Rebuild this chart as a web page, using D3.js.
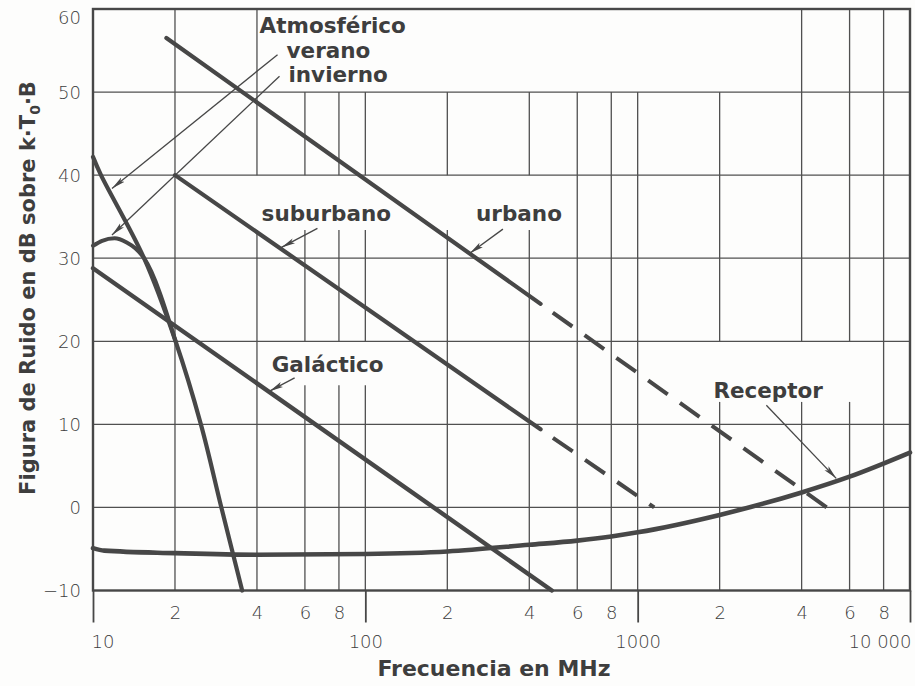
<!DOCTYPE html>
<html>
<head>
<meta charset="utf-8">
<script src="https://cdn.jsdelivr.net/npm/d3@7"></script>
<style>
  html, body { margin: 0; padding: 0; background: #fdfdfc; }
  svg { display: block; }
</style>
</head>
<body>
<svg id="chart" width="915" height="686"></svg>
<script>
// ---- Data -------------------------------------------------------------
// Frequencies in MHz, levels in dB above k·T0·B

// Atmospheric noise, summer and winter
const atmVeranoFreq   = [10, 10.7, 15.4, 20.1, 24.9, 29.6, 35.3];
const atmVeranoDb     = [42.2, 40, 30, 20, 10, 0, -10];
const atmInviernoFreq = [10, 10.8, 12, 13.3, 14.3, 15.4, 20.1];
const atmInviernoDb   = [31.5, 32.1, 32.4, 31.9, 31.2, 30, 20];

// Galactic noise
const galacticoFreq = [10, 484];
const galacticoDb   = [28.8, -10];

// Man-made noise: solid part, then extrapolated (dashed) part
const suburbanoFreq = [20, 440, 1150];
const suburbanoDb   = [40, 9.4, 0];
const urbanoFreq    = [18.6, 440, 5200];
const urbanoDb      = [56.5, 24.5, -0.5];

// Receiver noise figure
const receptorFreq = [10, 11, 20, 40, 100, 200, 400, 600, 800, 1000, 2000, 4000, 6000, 10000];
const receptorDb   = [-4.9, -5.2, -5.5, -5.7, -5.6, -5.3, -4.5, -4.0, -3.5, -3.0, -0.9, 1.8, 3.7, 6.6];

// Axis ticks
const dbTicks        = [-10, 0, 10, 20, 30, 40, 50, 60];
const dbTickLabels   = ["\u221210", "0", "10", "20", "30", "40", "50", "60"];
const minorTicks     = [20, 40, 60, 80, 200, 400, 600, 800, 2000, 4000, 6000, 8000];
const minorLabels    = ["2", "4", "6", "8", "2", "4", "6", "8", "2", "4", "6", "8"];
const decadeTicks    = [10, 100, 1000, 10000];
const decadeLabels   = ["10", "100", "1000", "10 000"];

// Vertical grid lines and the stretches left open for the labels
const gridFreqs = [20, 40, 60, 80, 100, 200, 400, 600, 800, 1000, 2000, 4000, 6000, 8000];
const gridRowsDb = [0, 10, 20, 30, 40, 50];
const gapTopRowFreqs   = [60, 80, 100, 200, 400, 600, 800, 1000, 2000];   // 50..60 dB
const gapSuburbFreqs   = [40, 60, 80, 100, 200, 400];                     // 33.4..40 dB
const gapGalactFreqs   = [60, 80, 100];                                   // 14.7..20 dB
const gapReceptFreqs   = [2000, 4000, 6000];                              // 12.7..20 dB
const gapRanges = [
  { freqs: gapTopRowFreqs, lo: 50,   hi: 60 },
  { freqs: gapSuburbFreqs, lo: 33.4, hi: 40 },
  { freqs: gapGalactFreqs, lo: 14.7, hi: 20 },
  { freqs: gapReceptFreqs, lo: 12.7, hi: 20 }
];

// Curve labels and their pointers
const labelText = ["Atmosférico", "verano", "invierno", "suburbano", "urbano", "Galáctico", "Receptor"];
const labelFreq = [40.9, 51.4, 52.2, 41.6, 255, 45.3, 1897];
const labelDb   = [57.1, 54.1, 51.2, 34.5, 34.5, 16.3, 13.2];

const pointerFromFreq = [47.6, 48.4, 66.7, 320, 55, 2968];
const pointerFromDb   = [54.5, 51.9, 33.6, 33.5, 15.6, 12.3];
const pointerToFreq   = [11.74, 11.74, 49.2, 242, 44.5, 5358];
const pointerToDb     = [38.4, 32.8, 31.3, 30.6, 14.0, 3.5];

// ---- Layout -----------------------------------------------------------
const svg = d3.select("#chart");
const W = 915, H = 686;
const plot = { left: 93, right: 910, top: 9, bottom: 590.5 };

const x = d3.scaleLog().domain([10, 10000]).range([plot.left, plot.right]);
const y = d3.scaleLinear().domain([-10, 60]).range([plot.bottom, plot.top]);

const INK = "#474747";
const TEXT = "#3e3e3e";
const labelFont = "'DejaVu Sans', Verdana, sans-serif";
const tickFont = "'DejaVu Sans', sans-serif";

svg.append("rect").attr("width", W).attr("height", H).attr("fill", "#fdfdfc");

// ---- Grid -------------------------------------------------------------
const grid = svg.append("g").attr("stroke", "#505050").attr("stroke-width", 1.3).attr("fill", "none");

grid.selectAll("line.h").data(gridRowsDb).join("line")
  .attr("class", "h")
  .attr("x1", plot.left).attr("x2", plot.right)
  .attr("y1", d => y(d)).attr("y2", d => y(d));

function openStretches(f) {
  let parts = [[-10, 60]];
  gapRanges.filter(g => g.freqs.includes(f)).forEach(g => {
    const next = [];
    parts.forEach(([a, b]) => {
      if (g.hi <= a || g.lo >= b) { next.push([a, b]); return; }
      if (g.lo > a) next.push([a, g.lo]);
      if (g.hi < b) next.push([g.hi, b]);
    });
    parts = next;
  });
  return parts.map(p => ({ f, lo: p[0], hi: p[1] }));
}
const vSegments = gridFreqs.flatMap(openStretches);
grid.selectAll("line.v").data(vSegments).join("line")
  .attr("class", "v")
  .attr("x1", d => x(d.f)).attr("x2", d => x(d.f))
  .attr("y1", d => y(d.lo)).attr("y2", d => y(d.hi));

// Frame
svg.append("rect")
  .attr("x", plot.left).attr("y", plot.top)
  .attr("width", plot.right - plot.left).attr("height", plot.bottom - plot.top)
  .attr("fill", "none").attr("stroke", INK).attr("stroke-width", 2.4);

// ---- Axes -------------------------------------------------------------
const decadeAxis = d3.axisBottom(x)
  .tickValues(decadeTicks)
  .tickFormat((d, i) => decadeLabels[i])
  .tickSizeInner(32).tickSizeOuter(0).tickPadding(13);
const gDec = svg.append("g").attr("transform", `translate(0,${plot.bottom})`).call(decadeAxis);
gDec.select(".domain").remove();
gDec.selectAll(".tick line").attr("stroke", INK).attr("stroke-width", 1.8);
gDec.selectAll(".tick text")
  .attr("fill", TEXT).attr("font-family", tickFont).attr("font-weight", 200).attr("font-size", 18)
  .attr("text-anchor", (d, i) => i === 0 ? "start" : (i === decadeTicks.length - 1 ? "end" : "middle"))
  .attr("dx", (d, i) => i === 0 ? -2 : (i === decadeTicks.length - 1 ? 1 : 0));

const minorAxis = d3.axisBottom(x)
  .tickValues(minorTicks)
  .tickFormat((d, i) => minorLabels[i])
  .tickSize(0).tickPadding(16);
const gMin = svg.append("g").attr("transform", `translate(0,${plot.bottom})`).call(minorAxis);
gMin.select(".domain").remove();
gMin.selectAll(".tick text")
  .attr("fill", TEXT).attr("font-family", tickFont).attr("font-weight", 200).attr("font-size", 18);

const yAxis = d3.axisLeft(y)
  .tickValues(dbTicks)
  .tickFormat((d, i) => dbTickLabels[i])
  .tickSize(0).tickPadding(12);
const gY = svg.append("g").attr("transform", `translate(${plot.left},0)`).call(yAxis);
gY.select(".domain").remove();
gY.selectAll(".tick text")
  .attr("fill", TEXT).attr("font-family", tickFont).attr("font-weight", 200).attr("font-size", 18)
  .attr("dy", d => d === 60 ? "0.78em" : "0.36em");

// Axis titles
svg.append("text")
  .attr("x", 494).attr("y", 676)
  .attr("text-anchor", "middle")
  .attr("font-family", labelFont).attr("font-weight", "bold").attr("font-size", 22)
  .attr("fill", TEXT)
  .text("Frecuencia en MHz");

const yTitle = svg.append("text")
  .attr("transform", "translate(35,288) rotate(-90)")
  .attr("text-anchor", "middle")
  .attr("font-family", labelFont).attr("font-weight", "bold").attr("font-size", 21)
  .attr("fill", TEXT);
yTitle.append("tspan").text("Figura de Ruido en dB sobre k·T");
yTitle.append("tspan").attr("font-size", 14).attr("dy", 5).text("0");
yTitle.append("tspan").attr("dy", -5).text("·B");

// ---- Curves -----------------------------------------------------------
const toPts = (fs, ds) => fs.map((f, i) => [f, ds[i]]);
const line = d3.line().x(d => x(d[0])).y(d => y(d[1])).curve(d3.curveMonotoneX);
const smoothLine = d3.line().x(d => x(d[0])).y(d => y(d[1])).curve(d3.curveCatmullRom.alpha(0.5));
const curves = svg.append("g").attr("fill", "none").attr("stroke", INK)
  .attr("stroke-linecap", "round").attr("stroke-linejoin", "round");

curves.append("path").attr("d", line(toPts(receptorFreq, receptorDb))).attr("stroke-width", 4.6);
curves.append("path").attr("d", line(toPts(galacticoFreq, galacticoDb))).attr("stroke-width", 4.4);
curves.append("path").attr("d", line(toPts(atmInviernoFreq, atmInviernoDb))).attr("stroke-width", 4);
curves.append("path").attr("d", smoothLine(toPts(atmVeranoFreq, atmVeranoDb))).attr("stroke-width", 4.2);

function manMade(fs, ds) {
  const pts = toPts(fs, ds);
  curves.append("path").attr("d", line(pts.slice(0, 2))).attr("stroke-width", 4.2);
  curves.append("path").attr("d", line(pts.slice(1)))
    .attr("stroke-width", 4).attr("stroke-linecap", "butt")
    .attr("stroke-dasharray", "24,15").attr("stroke-dashoffset", 24);
}
manMade(suburbanoFreq, suburbanoDb);
manMade(urbanoFreq, urbanoDb);

// ---- Labels and pointers ----------------------------------------------
svg.append("defs").append("marker")
  .attr("id", "barb")
  .attr("viewBox", "0 0 14 8")
  .attr("refX", 14).attr("refY", 4)
  .attr("markerWidth", 14).attr("markerHeight", 8)
  .attr("markerUnits", "userSpaceOnUse")
  .attr("orient", "auto")
  .append("path")
  .attr("d", "M0,1.2 L14,4 L0,6.8 L3,4 Z")
  .attr("fill", INK);

svg.append("g").selectAll("line").data(pointerFromFreq).join("line")
  .attr("x1", (d, i) => x(pointerFromFreq[i])).attr("y1", (d, i) => y(pointerFromDb[i]))
  .attr("x2", (d, i) => x(pointerToFreq[i])).attr("y2", (d, i) => y(pointerToDb[i]))
  .attr("stroke", INK).attr("stroke-width", 1.3)
  .attr("marker-end", "url(#barb)");

svg.append("g").selectAll("text").data(labelText).join("text")
  .attr("x", (d, i) => x(labelFreq[i])).attr("y", (d, i) => y(labelDb[i]))
  .attr("font-family", labelFont).attr("font-weight", "bold").attr("font-size", 21.5)
  .attr("fill", TEXT)
  .text(d => d);
</script>
</body>
</html>
